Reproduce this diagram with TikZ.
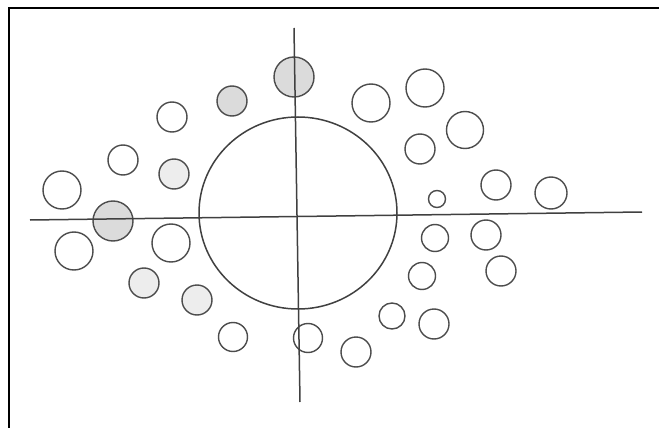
\documentclass[tikz,border=0pt]{standalone}
\usetikzlibrary{shapes.geometric}
\begin{document}
\begin{tikzpicture}[x=1pt,y=-1pt,
  ln/.style={draw=black!75,line width=1.5pt},
  dot/.style={circle,draw=black!70,line width=1.4pt,inner sep=0pt,minimum size=#1},
  sh/.style={fill=black!14},
  lsh/.style={fill=black!7}]
\useasboundingbox[fill=white] (0,0) rectangle (659,428);
% frame (cropped)
\coordinate (fl) at (9,428);
\coordinate (fc) at (9,8);
\coordinate (fr) at (659,8);
\draw[black,line width=2pt] (fl) -- (fc) -- (fr);
% axes end points
\coordinate (xl) at (30,220);
\coordinate (xr) at (642,212);
\coordinate (yt) at (294,28);
\coordinate (yb) at (300,402);
% big circle
\node[ln,ellipse,minimum width=198pt,minimum height=192pt,inner sep=0pt] (big) at (298,213) {};
% small circles
\node[dot=40pt,sh] (c1) at (294,77) {};
\node[dot=30pt,sh] (c2) at (232,101) {};
\node[dot=30pt] (c3) at (172,117) {};
\node[dot=30pt] (c4) at (123,160) {};
\node[dot=30pt,lsh] (c5) at (174,174) {};
\node[dot=38pt] (c6) at (62,190) {};
\node[dot=40pt,sh] (c7) at (113,221) {};
\node[dot=38pt] (c8) at (74,251) {};
\node[dot=38pt] (c9) at (171,243) {};
\node[dot=30pt,lsh] (c10) at (144,283) {};
\node[dot=30pt,lsh] (c11) at (197,300) {};
\node[dot=29pt] (c12) at (233,337) {};
\node[dot=29pt] (c13) at (308,338) {};
\node[dot=38pt] (c14) at (371,103) {};
\node[dot=38pt] (c15) at (425,88) {};
\node[dot=37pt] (c16) at (465,130) {};
\node[dot=30pt] (c17) at (420,149) {};
\node[dot=30pt] (c18) at (496,185) {};
\node[dot=32pt] (c19) at (551,193) {};
\node[dot=17pt] (c20) at (437,199) {};
\node[dot=27pt] (c21) at (435,238) {};
\node[dot=30pt] (c22) at (486,235) {};
\node[dot=27pt] (c23) at (422,276) {};
\node[dot=30pt] (c24) at (501,271) {};
\node[dot=26pt] (c25) at (392,316) {};
\node[dot=30pt] (c26) at (434,324) {};
\node[dot=30pt] (c27) at (356,352) {};
% axes on top
\draw[ln] (xl) -- (xr);
\draw[ln] (yt) -- (yb);
\end{tikzpicture}
\end{document}
